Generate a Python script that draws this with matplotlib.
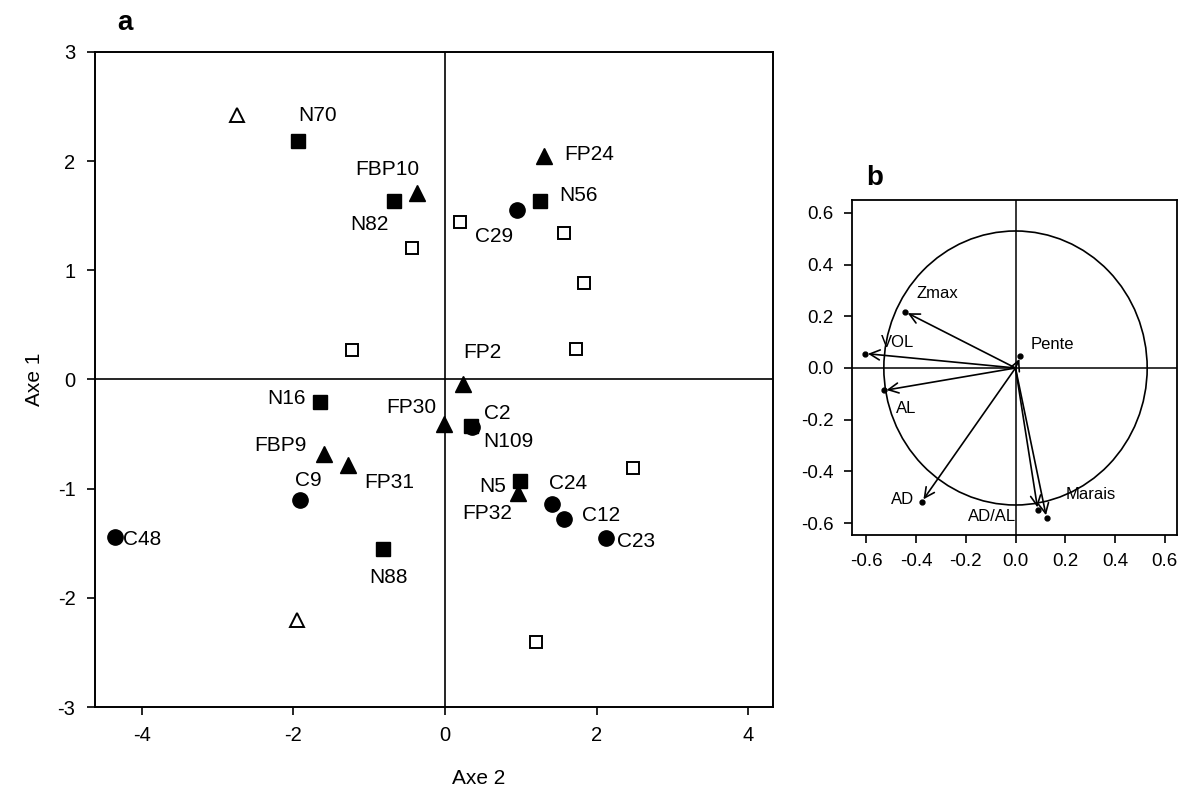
import numpy as np
import matplotlib.pyplot as plt
from matplotlib.patches import Circle

plt.rcParams['font.family'] = ['Liberation Sans', 'DejaVu Sans']
plt.rcParams['axes.unicode_minus'] = False

# panel a: site scores (Axe 2, Axe 1)
circ_names = ["C29", "C2", "C9", "C48", "C24", "C12", "C23"]
circ_x = [0.95, 0.35, -1.92, -4.36, 1.41, 1.57, 2.12]
circ_y = [1.55, -0.44, -1.10, -1.44, -1.14, -1.28, -1.45]

sq_names = ["N70", "N82", "N56", "N16", "N88", "N5", "N109"]
sq_x = [-1.94, -0.67, 1.25, -1.65, -0.82, 0.99, 0.34]
sq_y = [2.18, 1.63, 1.63, -0.21, -1.55, -0.93, -0.43]

tri_names = ["FBP10", "FP24", "FP2", "FP30", "FBP9", "FP31", "FP32"]
tri_x = [-0.37, 1.31, 0.24, -0.01, -1.60, -1.28, 0.96]
tri_y = [1.71, 2.05, -0.04, -0.41, -0.68, -0.78, -1.04]

osq_x = [-0.44, -1.23, 0.20, 1.57, 1.83, 1.73, 2.48, 1.20]
osq_y = [1.20, 0.27, 1.44, 1.34, 0.88, 0.28, -0.81, -2.40]

otri_x = [-2.74, -1.95]
otri_y = [2.42, -2.20]

# label offsets in points (dx, dy, ha, va)
offsets = {
    "N70": (0, 12, "left", "bottom"), "N82": (-4, -10, "right", "top"),
    "N56": (14, 4, "left", "center"), "N16": (-10, 3, "right", "center"),
    "N88": (-10, -14, "left", "top"), "N5": (-10, -4, "right", "center"),
    "N109": (9, -4, "left", "top"), "FBP10": (2, 10, "right", "bottom"),
    "FP24": (14, 1, "left", "center"), "FP2": (0, 16, "left", "bottom"),
    "FP30": (-6, 5, "right", "bottom"), "FBP9": (-12, 6, "right", "center"),
    "FP31": (12, -6, "left", "top"), "FP32": (-4, -8, "right", "top"),
    "C29": (-3, -12, "right", "top"), "C2": (9, 3, "left", "bottom"),
    "C9": (-3, 7, "left", "bottom"), "C48": (6, -2, "left", "center"),
    "C24": (-2, 8, "left", "bottom"), "C12": (13, 3, "left", "center"),
    "C23": (8, -3, "left", "center"),
}

# panel b: variable loadings
var_names = ["Zmax", "VOL", "AL", "AD", "Pente", "AD/AL", "Marais"]
var_x = [-0.444, -0.605, -0.53, -0.377, 0.02, 0.09, 0.125]
var_y = [0.217, 0.056, -0.087, -0.517, 0.045, -0.55, -0.58]
var_lab = {
    "Zmax": (-0.40, 0.29, "left"), "VOL": (-0.54, 0.10, "left"),
    "AL": (-0.48, -0.155, "left"), "AD": (-0.41, -0.51, "right"),
    "Pente": (0.06, 0.09, "left"), "AD/AL": (-0.19, -0.575, "left"),
    "Marais": (0.20, -0.49, "left"),
}

fig = plt.figure(figsize=(11.86, 7.98), dpi=100)

ax = fig.add_axes([0.080, 0.114, 0.572, 0.821])
ax.axhline(0, color="black", lw=1.2)
ax.axvline(0, color="black", lw=1.2)
ax.plot(osq_x, osq_y, "s", ms=9, mfc="white", mec="black", mew=1.4, ls="none")
ax.plot(otri_x, otri_y, "^", ms=10, mfc="white", mec="black", mew=1.4, ls="none")
ax.plot(sq_x, sq_y, "s", ms=9.5, color="black", ls="none")
ax.plot(tri_x, tri_y, "^", ms=11, color="black", ls="none")
ax.plot(circ_x, circ_y, "o", ms=11, color="black", ls="none")

for names, xs, ys in [(sq_names, sq_x, sq_y), (tri_names, tri_x, tri_y),
                      (circ_names, circ_x, circ_y)]:
    for n, x, y in zip(names, xs, ys):
        dx, dy, ha, va = offsets[n]
        ax.annotate(n, (x, y), xytext=(dx, dy), textcoords="offset points",
                    ha=ha, va=va, fontsize=15)

ax.set_xlim(-4.62, 4.33)
ax.set_ylim(-3, 3)
ax.set_xticks([-4, -2, 0, 2, 4])
ax.set_yticks([-3, -2, -1, 0, 1, 2, 3])
ax.tick_params(direction="out", length=6, width=1.2, labelsize=14.5, pad=8)
for s in ax.spines.values():
    s.set_linewidth(1.4)
ax.set_xlabel("Axe 2", fontsize=15)
ax.xaxis.set_label_coords(0.565, -0.095)
ax.set_ylabel("Axe 1", fontsize=15, labelpad=10)
fig.text(0.099, 0.962, "a", fontsize=20, fontweight="bold")

bx = fig.add_axes([0.718, 0.3296, 0.2744, 0.4198])
bx.axhline(0, color="black", lw=1.1)
bx.axvline(0, color="black", lw=1.1)
bx.add_patch(Circle((0, 0), 0.53, fill=False, ec="black", lw=1.2))
for n, x, y in zip(var_names, var_x, var_y):
    bx.annotate("", xy=(x, y), xytext=(0, 0),
                arrowprops=dict(arrowstyle="->", color="black", lw=1.2,
                                mutation_scale=18, shrinkA=0, shrinkB=2))
    lx, ly, ha = var_lab[n]
    bx.text(lx, ly, n, fontsize=12, ha=ha, va="center")
bx.plot(var_x, var_y, "o", ms=3.5, color="black", ls="none")
bx.set_xlim(-0.66, 0.65)
bx.set_ylim(-0.646, 0.65)
bx.set_xticks([-0.6, -0.4, -0.2, 0.0, 0.2, 0.4, 0.6])
bx.set_yticks([-0.6, -0.4, -0.2, 0.0, 0.2, 0.4, 0.6])
bx.xaxis.set_major_formatter(plt.FormatStrFormatter("%.1f"))
bx.yaxis.set_major_formatter(plt.FormatStrFormatter("%.1f"))
bx.tick_params(direction="out", length=6, width=1.2, labelsize=13.5, pad=7)
for s in bx.spines.values():
    s.set_linewidth(1.3)
fig.text(0.730, 0.768, "b", fontsize=20, fontweight="bold")

fig.savefig("out.png", dpi=100)
